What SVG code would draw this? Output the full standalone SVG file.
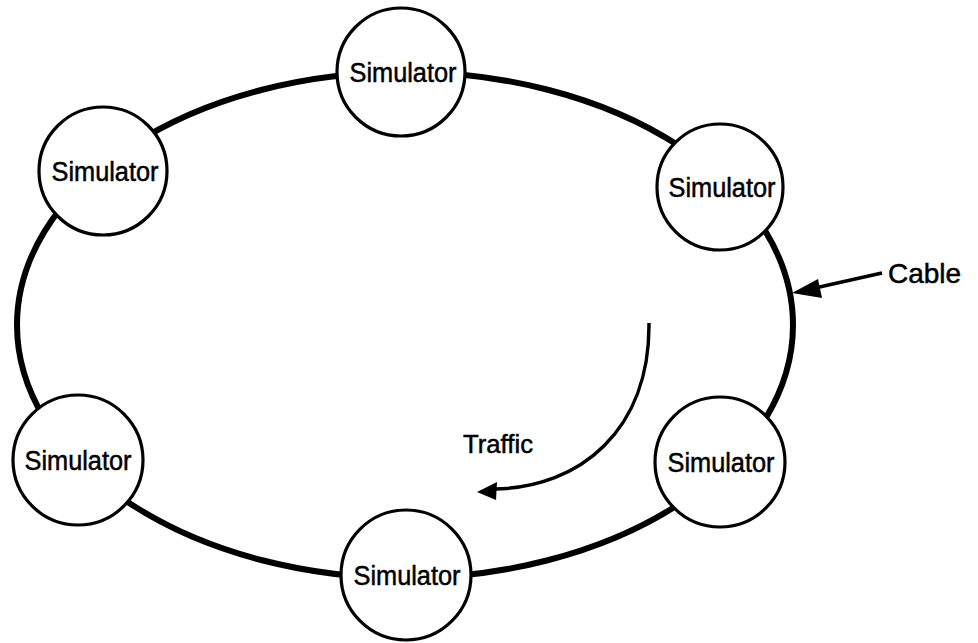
<svg xmlns="http://www.w3.org/2000/svg" width="978" height="643" viewBox="0 0 978 643">
<style>
.cable{fill:none;stroke:#000;stroke-width:6}
.node circle{fill:#fff;stroke:#000;stroke-width:3.2}
.lbl{font-family:"Liberation Sans",Arial,sans-serif;font-size:27px;fill:#000;stroke:#000;stroke-width:0.5;text-anchor:middle}
.note{font-family:"Liberation Sans",Arial,sans-serif;font-size:26px;fill:#000;stroke:#000;stroke-width:0.5}
.arrow{fill:none;stroke:#000;stroke-width:3.5}
</style>
<g id="connectors">
<ellipse class="cable" cx="405" cy="325" rx="388" ry="253"/>
<path class="arrow" d="M649,323 C650,430 580,488 494,489"/>
<path d="M477,492 L497,482 L496,500 Z" fill="#000"/>
<line class="arrow" x1="882" y1="273" x2="815" y2="288"/>
<path d="M792,293 L818,279 L822,298 Z" fill="#000"/>
</g>
<g id="node-top" class="node"><circle cx="401" cy="72" r="64"/><text class="lbl" x="403" y="82" textLength="107" lengthAdjust="spacingAndGlyphs">Simulator</text></g>
<g id="node-top-left" class="node"><circle cx="103" cy="171" r="64"/><text class="lbl" x="105" y="181" textLength="107" lengthAdjust="spacingAndGlyphs">Simulator</text></g>
<g id="node-top-right" class="node"><circle cx="720" cy="187" r="63"/><text class="lbl" x="722" y="197" textLength="107" lengthAdjust="spacingAndGlyphs">Simulator</text></g>
<g id="node-bottom-left" class="node"><circle cx="78" cy="460" r="65"/><text class="lbl" x="78" y="470" textLength="107" lengthAdjust="spacingAndGlyphs">Simulator</text></g>
<g id="node-bottom" class="node"><circle cx="406" cy="575" r="65"/><text class="lbl" x="407" y="585" textLength="107" lengthAdjust="spacingAndGlyphs">Simulator</text></g>
<g id="node-bottom-right" class="node"><circle cx="720" cy="462" r="65"/><text class="lbl" x="721" y="472" textLength="107" lengthAdjust="spacingAndGlyphs">Simulator</text></g>
<text class="note" x="463" y="453" textLength="70" lengthAdjust="spacingAndGlyphs">Traffic</text>
<text class="note" x="888" y="283" style="font-size:28px">Cable</text>
</svg>
